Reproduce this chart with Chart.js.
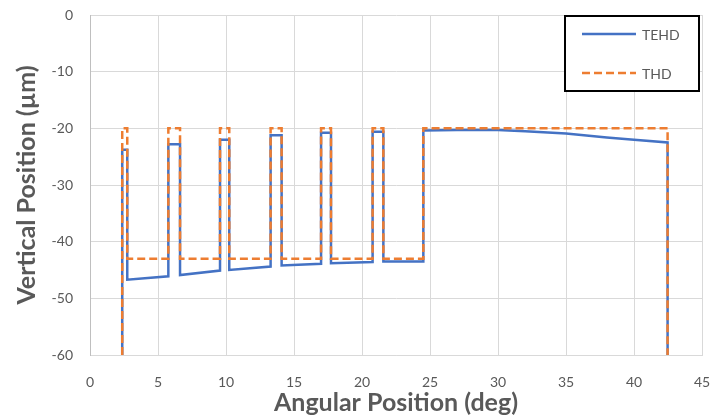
<!DOCTYPE html>
<html>
<head>
<meta charset="utf-8">
<script src="https://cdn.jsdelivr.net/npm/chart.js@4.4.1/dist/chart.umd.min.js"></script>
<style>
  html, body { margin: 0; padding: 0; background: #fff; }
  #wrap { width: 710px; height: 420px; }
</style>
</head>
<body>
<div id="wrap"><canvas id="profileChart"></canvas></div>
<script>
// angular position (deg) and vertical position (um)
const thdX = [2.37, 2.37, 2.74, 2.74, 5.76, 5.76, 6.62, 6.62, 9.56, 9.56, 10.24, 10.24,
  13.28, 13.28, 14.09, 14.09, 16.99, 16.99, 17.72, 17.72, 20.78, 20.78, 21.57, 21.57,
  24.51, 24.51, 42.47, 42.47];
const thdY = [-60, -20, -20, -43, -43, -20, -20, -43, -43, -20, -20, -43,
  -43, -20, -20, -43, -43, -20, -20, -43, -43, -20, -20, -43,
  -43, -20, -20, -60];

const tehdX = [2.37, 2.37, 2.74, 2.74, 5.76, 5.76, 6.62, 6.62, 9.56, 9.56, 10.24, 10.24,
  13.28, 13.28, 14.09, 14.09, 16.99, 16.99, 17.72, 17.72, 20.78, 20.78, 21.57, 21.57,
  24.51, 24.51, 27, 30, 32, 35, 38, 40, 42.47, 42.47];
const tehdY = [-60, -23.8, -23.8, -46.7, -46.1, -22.8, -22.8, -45.9, -45.1, -22.0, -22.0, -45.0,
  -44.4, -21.2, -21.2, -44.2, -43.9, -20.8, -20.8, -43.8, -43.6, -20.6, -20.6, -43.5,
  -43.5, -20.4, -20.3, -20.3, -20.5, -20.9, -21.6, -22.0, -22.5, -60];

const seriesNames = ['TEHD', 'THD'];
const seriesColors = ['#4472c4', '#ed7d31'];

function toPoints(xs, ys) {
  return xs.map((x, i) => ({ x: x, y: ys[i] }));
}

const boxLegend = {
  id: 'boxLegend',
  afterDraw(chart) {
    const ctx = chart.ctx;
    ctx.save();
    ctx.fillStyle = '#fff';
    ctx.fillRect(565, 16, 134, 75);
    ctx.strokeStyle = '#000';
    ctx.lineWidth = 2;
    ctx.strokeRect(565, 16, 134, 75);
    const rows = [34, 73];
    rows.forEach((y, i) => {
      ctx.beginPath();
      ctx.strokeStyle = seriesColors[i];
      ctx.lineWidth = 2.5;
      ctx.setLineDash(i === 1 ? [8, 4] : []);
      ctx.moveTo(582, y);
      ctx.lineTo(636, y);
      ctx.stroke();
      ctx.setLineDash([]);
      ctx.fillStyle = '#595959';
      ctx.font = '14px Lato';
      ctx.textBaseline = 'middle';
      ctx.fillText(seriesNames[i], 642, y + 1);
    });
    ctx.restore();
  }
};

const ctx = document.getElementById('profileChart').getContext('2d');
new Chart(ctx, {
  type: 'scatter',
  data: {
    datasets: [
      {
        label: seriesNames[0],
        data: toPoints(tehdX, tehdY),
        showLine: true,
        borderColor: seriesColors[0],
        borderWidth: 2.5,
        pointRadius: 0,
        order: 2
      },
      {
        label: seriesNames[1],
        data: toPoints(thdX, thdY),
        showLine: true,
        borderColor: seriesColors[1],
        borderWidth: 2.5,
        borderDash: [8, 4],
        pointRadius: 0,
        order: 1
      }
    ]
  },
  options: {
    responsive: true,
    maintainAspectRatio: false,
    animation: false,
    layout: { padding: 0 },
    plugins: {
      legend: { display: false },
      tooltip: { enabled: false }
    },
    scales: {
      x: {
        type: 'linear',
        min: 0,
        max: 45,
        ticks: { stepSize: 5, color: '#595959', font: { family: 'Lato', size: 14 }, padding: 19 },
        grid: { color: '#d9d9d9', drawTicks: false },
        border: { color: '#d9d9d9' },
        title: {
          display: true,
          text: 'Angular Position (deg)',
          color: '#595959',
          font: { family: 'Lato', size: 25, weight: 'bold' },
          padding: { top: 0, bottom: 2 }
        },
        afterFit(scale) {
          scale.height = 65;
          scale.paddingRight = 8;
        }
      },
      y: {
        min: -60,
        max: 0,
        ticks: { stepSize: 10, color: '#595959', font: { family: 'Lato', size: 14 }, padding: 17 },
        grid: { color: '#d9d9d9', drawTicks: false },
        border: { color: '#bfbfbf' },
        title: {
          display: true,
          text: 'Vertical Position (µm)',
          color: '#595959',
          font: { family: 'Lato', size: 25, weight: 'bold' },
          padding: { top: 12, bottom: 0 }
        },
        afterFit(scale) {
          scale.width = 90;
          scale.paddingTop = 15;
        }
      }
    }
  },
  plugins: [boxLegend]
});
</script>
</body>
</html>
